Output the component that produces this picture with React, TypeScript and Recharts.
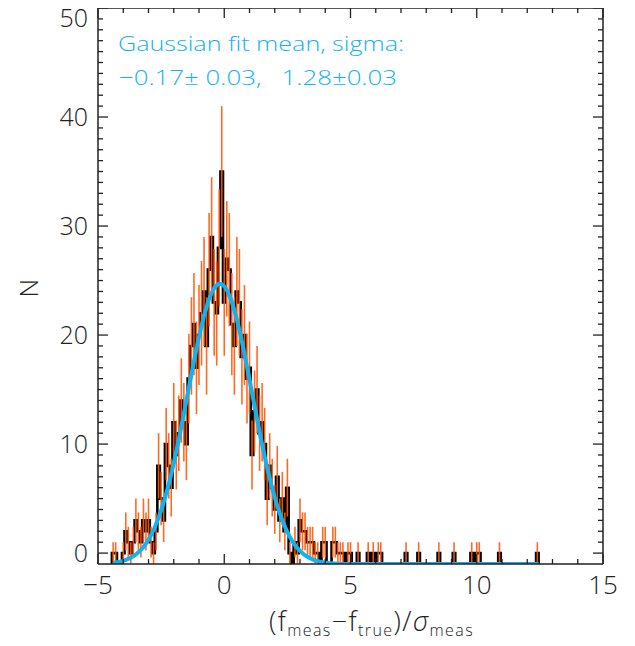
import { ComposedChart, Line, Scatter, ErrorBar, XAxis, YAxis } from "recharts"

// histogram of (f_meas - f_true)/sigma_meas, fixed-width bins
const BIN_START = -4.45
const BIN_WIDTH = 0.1
const counts = [
  1, 1, 0, 0, 1, 3, 2, 1, 2, 4,
  3, 2, 4, 3, 4, 2, 1, 3, 9, 6,
  4, 11, 9, 7, 13, 10, 12, 15, 13, 11,
  17, 20, 22, 18, 21, 23, 25, 20, 27, 30,
  24, 23, 29, 36, 24, 28, 27, 22, 20, 25,
  24, 19, 21, 17, 18, 10, 14, 16, 12, 13,
  11, 6, 9, 7, 5, 8, 4, 6, 3, 7,
  1, 0, 2, 1, 4, 3, 3, 2, 2, 2,
  1, 1, 0, 2, 2, 0, 0, 2, 2, 1,
  1, 1, 0, 1, 1, 0, 0, 1, 0, 0,
  0, 1, 0, 1, 0, 1, 1, 0, 0, 0,
  0, 0, 0, 0, 0, 0, 1, 0, 0, 0,
  0, 1, 0, 0, 0, 0, 0, 0, 0, 1,
  0, 0, 0, 0, 0, 1, 0, 0, 0, 0,
  0, 0, 1, 0, 1, 1, 0, 0, 0, 0,
  0, 0, 0, 1, 0, 0, 0, 0, 0, 0,
  0, 0, 0, 0, 0, 0, 0, 0, 1,
]

// gaussian fit curve (same offset as the histogram)
const fitX = [
  -4.4, -4.25, -4.0, -3.75, -3.5, -3.25, -3.0, -2.75, -2.5, -2.25,
  -2.0, -1.75, -1.5, -1.25, -1.0, -0.75, -0.5, -0.25, -0.17, 0,
  0.25, 0.5, 0.75, 1.0, 1.25, 1.5, 1.75, 2.0, 2.25, 2.5,
  2.75, 3.0, 3.25, 3.5, 3.75, 4.0, 4.5, 5.0, 6.0, 8.0,
  10.0, 12.45,
]
const fitY = [
  -0.89, -0.84, -0.71, -0.48, -0.13, 0.42, 1.23, 2.37, 3.91, 5.87,
  8.25, 11.0, 13.98, 17.0, 19.83, 22.19, 23.86, 24.65, 24.7, 24.48,
  23.35, 21.41, 18.85, 15.92, 12.89, 9.97, 7.34, 5.1, 3.31, 1.92,
  0.9, 0.2, -0.28, -0.58, -0.77, -0.88, -0.97, -0.99, -1, -1,
  -1, -1,
]

const xTicks = [-5, -4, -3, -2, -1, 0, 1, 2, 3, 4, 5, 6, 7, 8, 9, 10, 11, 12, 13, 14, 15]
const yTicks = Array.from({ length: 51 }, (_, i) => i)

const INK = "#222"
const ORANGE = "#ff5a0a"
const CYAN = "#12b2f0"
const FONT = "'Open Sans', 'DejaVu Sans', sans-serif"

// the plotted histogram sits one unit low: empty bins lie on the floor at -1
const binRows = counts.map((n, i) => ({
  x: BIN_START + BIN_WIDTH * (i + 0.5),
  level: n - 1,
  err: Math.sqrt(n),
}))

const lastEdge = BIN_START + BIN_WIDTH * counts.length
const stepRows = [
  { x: BIN_START, level: -1 },
  ...counts.map((n, i) => ({ x: BIN_START + BIN_WIDTH * i, level: n - 1 })),
  { x: lastEdge, level: counts[counts.length - 1] - 1 },
  { x: lastEdge, level: -1 },
]

const fitRows = fitX.map((x, i) => ({ x, level: fitY[i] }))

const fmt = (v: number) => (v < 0 ? "\u2212" + Math.abs(v) : String(v))

const BottomTick = ({ x, y, payload }: any) => {
  const major = payload.value % 5 === 0
  return (
    <g>
      <line x1={x} x2={x} y1={y} y2={y - (major ? 10 : 5)} stroke={INK} strokeWidth={1.3} />
      {major && (
        <text x={x} y={y + 30} textAnchor="middle" fontSize={26} fill={INK} fontFamily={FONT} fontWeight={300}>
          {fmt(payload.value)}
        </text>
      )}
    </g>
  )
}

const TopTick = ({ x, y, payload }: any) => {
  const major = payload.value % 5 === 0
  return <line x1={x} x2={x} y1={y} y2={y + (major ? 10 : 5)} stroke={INK} strokeWidth={1.3} />
}

const LeftTick = ({ x, y, payload }: any) => {
  const major = payload.value % 10 === 0
  return (
    <g>
      <line x1={x} x2={x + (major ? 10 : 5)} y1={y} y2={y} stroke={INK} strokeWidth={1.3} />
      {major && (
        <text
          x={x - 10}
          y={Math.max(y + 9, 27)}
          textAnchor="end"
          fontSize={25}
          fill={INK}
          fontFamily={FONT}
          fontWeight={300}
        >
          {payload.value}
        </text>
      )}
    </g>
  )
}

const RightTick = ({ x, y, payload }: any) => {
  const major = payload.value % 10 === 0
  return <line x1={x} x2={x - (major ? 10 : 5)} y1={y} y2={y} stroke={INK} strokeWidth={1.3} />
}

const noPoint = () => <g />

export default function App() {
  const axisLine = { stroke: INK, strokeWidth: 1.5 }
  return (
    <div style={{ position: "relative", width: 635, height: 646, margin: -8 }}>
      <ComposedChart width={635} height={646} margin={{ top: 7, right: 31, bottom: 0, left: 0 }}>
        <XAxis
          dataKey="x"
          type="number"
          domain={[-5, 15]}
          allowDataOverflow
          ticks={xTicks}
          interval={0}
          height={82}
          tickSize={0}
          tickMargin={0}
          tickLine={false}
          axisLine={axisLine}
          tick={<BottomTick />}
        />
        <XAxis
          xAxisId="top"
          dataKey="x"
          orientation="top"
          type="number"
          domain={[-5, 15]}
          allowDataOverflow
          ticks={xTicks}
          interval={0}
          height={1}
          tickSize={0}
          tickMargin={0}
          tickLine={false}
          axisLine={axisLine}
          tick={<TopTick />}
        />
        <YAxis
          type="number"
          domain={[-1, 50]}
          allowDataOverflow
          ticks={yTicks}
          interval={0}
          width={98}
          tickSize={0}
          tickMargin={0}
          tickLine={false}
          axisLine={axisLine}
          tick={<LeftTick />}
        />
        <YAxis
          yAxisId="right"
          orientation="right"
          type="number"
          domain={[-1, 50]}
          allowDataOverflow
          ticks={yTicks}
          interval={0}
          width={1}
          tickSize={0}
          tickMargin={0}
          tickLine={false}
          axisLine={axisLine}
          tick={<RightTick />}
        />
        {/* invisible series so the mirrored box axes have something to belong to */}
        <Line
          xAxisId="top"
          yAxisId="right"
          data={fitRows}
          dataKey="level"
          stroke="none"
          dot={false}
          activeDot={false}
          legendType="none"
          isAnimationActive={false}
        />
        <Line
          data={stepRows}
          dataKey="level"
          type="stepAfter"
          stroke="#000"
          strokeWidth={2.6}
          dot={false}
          activeDot={false}
          isAnimationActive={false}
        />
        <Scatter data={binRows} dataKey="level" shape={noPoint} isAnimationActive={false}>
          <ErrorBar
            dataKey="err"
            direction="y"
            width={0}
            stroke={ORANGE}
            strokeWidth={1.6}
            strokeOpacity={0.9}
            isAnimationActive={false}
          />
        </Scatter>
        <Line
          data={fitRows}
          dataKey="level"
          type="monotone"
          stroke={CYAN}
          strokeWidth={4}
          dot={false}
          activeDot={false}
          isAnimationActive={false}
        />
      </ComposedChart>
      <svg
        width={635}
        height={646}
        style={{ position: "absolute", left: 0, top: 0, pointerEvents: "none" }}
        fontFamily={FONT}
        fontWeight={300}
      >
        <text x={118} y={51} fontSize={21} fill={CYAN} textLength={286} lengthAdjust="spacingAndGlyphs">
          Gaussian fit mean, sigma:
        </text>
        <text
          x={119}
          y={85}
          fontSize={21}
          fill={CYAN}
          textLength={278}
          lengthAdjust="spacingAndGlyphs"
          style={{ whiteSpace: "pre" }}
        >
          {"\u22120.17\u00b1 0.03,   1.28\u00b10.03"}
        </text>
        <text x={38} y={288} fontSize={26} fill={INK} textAnchor="middle" transform="rotate(-90 38 288)">
          N
        </text>
        <text x={269} y={631} fontSize={27} fill={INK} letterSpacing={1.4}>
          (f<tspan fontSize={16} dy={5}>meas</tspan>
          <tspan dy={-5}>{"\u2212f"}</tspan>
          <tspan fontSize={16} dy={5}>true</tspan>
          <tspan dy={-5}>)/</tspan>
          <tspan fontStyle="italic">{"\u03c3"}</tspan>
          <tspan fontSize={16} dy={5}>meas</tspan>
        </text>
      </svg>
    </div>
  )
}
